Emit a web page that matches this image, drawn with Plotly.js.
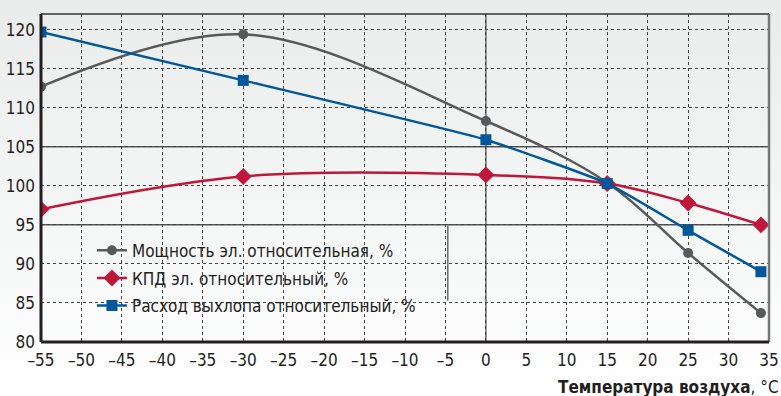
<!DOCTYPE html>
<html>
<head>
<meta charset="utf-8">
<script src="https://cdn.plot.ly/plotly-3.0.1.min.js"></script>
<style>
html,body{margin:0;padding:0;}
body{width:781px;height:396px;background:linear-gradient(#eaecec 0%,#f3f4f4 45%,#ffffff 100%);}
#chart{width:781px;height:396px;}
</style>
</head>
<body>
<div id="chart"></div>
<script>
// Data
const temps = [-55, -30, 0, 15, 25, 34];
const powerRel = [112.7, 119.4, 108.3, 100.4, 91.4, 83.7];
const effRel = [97.0, 101.2, 101.4, 100.3, 97.8, 95.0];
const exhaustRel = [119.7, 113.5, 105.9, 100.3, 94.3, 89.0];
const seriesNames = ["Мощность эл. относительная, %", "КПД эл. относительный, %", "Расход выхлопа относительный, %"];
const xTickVals = [-55,-50,-45,-40,-35,-30,-25,-20,-15,-10,-5,0,5,10,15,20,25,30,35];
const xTickText = ["–55","–50","–45","–40","–35","–30","–25","–20","–15","–10","–5","0","5","10","15","20","25","30","35"];
const yTickVals = [80,85,90,95,100,105,110,115,120];
const xTitle = "<b>Температура воздуха</b>, °C";

const FONT = "'Liberation Sans Narrow', 'DejaVu Sans Condensed', 'Liberation Sans', sans-serif";
const GRAY = "#58595b", RED = "#c0163a", BLUE = "#00579a";

const traces = [
  {x: temps, y: powerRel, name: seriesNames[0], mode: "lines+markers", legendgroup: "g1",
   line: {color: GRAY, width: 2.5, shape: "spline", smoothing: 1},
   marker: {symbol: "circle", size: 10, color: GRAY}},
  {x: temps, y: effRel, name: seriesNames[1], mode: "lines+markers", legendgroup: "g2",
   line: {color: RED, width: 2.5, shape: "spline", smoothing: 1},
   marker: {symbol: "diamond", size: 13, color: RED}},
  {x: temps, y: exhaustRel, name: seriesNames[2], mode: "lines+markers", legendgroup: "g3",
   line: {color: BLUE, width: 2.5, shape: "spline", smoothing: 0.4},
   marker: {symbol: "square", size: 11, color: BLUE}}
];

const layout = {
  width: 781, height: 396,
  margin: {l: 41, r: 12, t: 14, b: 54},
  paper_bgcolor: "rgba(0,0,0,0)",
  plot_bgcolor: "rgba(0,0,0,0)",
  font: {family: FONT, size: 17, color: "#231f20"},
  showlegend: true,
  legend: {x: 0.07, y: 0.333, xanchor: "left", yanchor: "top",
           bgcolor: "rgba(0,0,0,0)", borderwidth: 0,
           traceorder: "grouped", tracegroupgap: 2.5,
           font: {family: FONT, size: 17, color: "#231f20"}},
  xaxis: {range: [-55, 35], tickvals: xTickVals, ticktext: xTickText,
          showgrid: true, gridcolor: "#444", griddash: "dot", gridwidth: 1,
          zeroline: false, showline: false, ticks: "", ticklabelstandoff: 6,
          tickfont: {family: FONT, size: 17, color: "#231f20"}},
  yaxis: {range: [80, 122], tickvals: yTickVals,
          showgrid: true, gridcolor: "#444", griddash: "dot", gridwidth: 1,
          zeroline: false, showline: false, ticks: "", ticklabelstandoff: 5,
          tickfont: {family: FONT, size: 17, color: "#231f20"}},
  shapes: [
    {type: "line", xref: "x", yref: "y", x0: -55, x1: 35, y0: 105, y1: 105, line: {color: "#555", width: 1.5}, layer: "below"},
    {type: "line", xref: "x", yref: "y", x0: -55, x1: 35, y0: 95, y1: 95, line: {color: "#555", width: 1.5}, layer: "below"},
    {type: "line", xref: "x", yref: "paper", x0: 0, x1: 0, y0: 0, y1: 1, line: {color: "#666", width: 1.5}, layer: "below"},
    {type: "line", xref: "x", yref: "y", x0: -4.7, x1: -4.7, y0: 85.3, y1: 94.9, line: {color: "#222", width: 1}, layer: "below"},
    {type: "line", xref: "paper", yref: "paper", x0: 0, x1: 1, y0: 1, y1: 1, line: {color: "#333", width: 1.5}},
    {type: "line", xref: "paper", yref: "paper", x0: 1, x1: 1, y0: 0, y1: 1, line: {color: "#777", width: 2.5}},
    {type: "line", xref: "paper", yref: "paper", x0: 0, x1: 1, y0: 0, y1: 0, line: {color: "#231f20", width: 3}},
    {type: "line", xref: "paper", yref: "paper", x0: 0, x1: 0, y0: 0, y1: 1, line: {color: "#231f20", width: 3}}
  ],
  annotations: [
    {text: xTitle, xref: "paper", yref: "paper", x: 1.0165, y: -0.138,
     xanchor: "right", yanchor: "middle", showarrow: false,
     font: {family: FONT, size: 17, color: "#231f20"}}
  ]
};

Plotly.newPlot("chart", traces, layout, {displayModeBar: false, staticPlot: true});
</script>
</body>
</html>
